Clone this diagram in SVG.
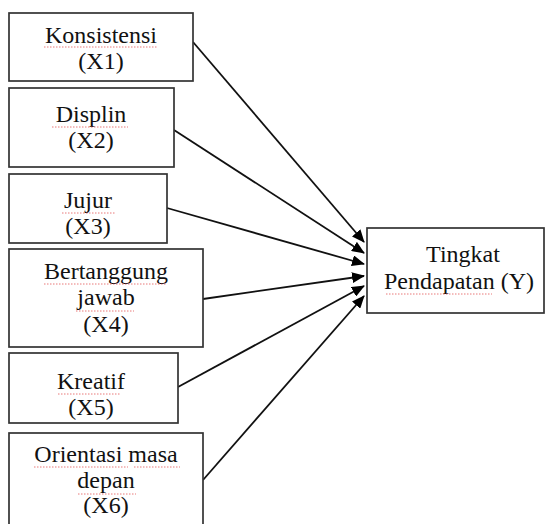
<svg xmlns="http://www.w3.org/2000/svg" width="549" height="524" viewBox="0 0 549 524">
<style>
.box{fill:#fff;stroke:#333;stroke-width:1.7}
text{font-size:24px;fill:#111;text-anchor:middle}
.c{stroke:#111;stroke-width:1.8;fill:none;marker-end:url(#ah)}
.sq{stroke:#e04040;stroke-width:1;stroke-dasharray:1.5 1.5;fill:none;opacity:0.7}
</style>
<defs>
<marker id="ah" markerUnits="userSpaceOnUse" markerWidth="13" markerHeight="11" refX="12" refY="5.5" orient="auto">
<path d="M0,0 L13,5.5 L0,11 z" fill="#000"/>
</marker>
</defs>
<rect width="549" height="524" fill="#fff"/>
<g id="connectors">
<line class="c" x1="193" y1="42" x2="364" y2="242"/>
<line class="c" x1="174" y1="130" x2="364" y2="253"/>
<line class="c" x1="167" y1="208" x2="364" y2="264"/>
<line class="c" x1="203" y1="299" x2="364" y2="276"/>
<line class="c" x1="178" y1="387" x2="364" y2="286"/>
<line class="c" x1="203" y1="480" x2="364" y2="296"/>
</g>
<g font-family="Liberation Serif, Times New Roman, serif">
<g id="x1">
<rect class="box" x="9" y="13" width="184" height="68"/>
<text x="101" y="43">Konsistensi</text>
<text x="101" y="69">(X1)</text>
<line class="sq" x1="44" y1="47" x2="158" y2="47"/>
</g>
<g id="x2">
<rect class="box" x="9" y="88" width="165" height="79"/>
<text x="91" y="122">Displin</text>
<text x="91" y="148">(X2)</text>
<line class="sq" x1="52" y1="127" x2="128" y2="127"/>
</g>
<g id="x3">
<rect class="box" x="9" y="174" width="158" height="69"/>
<text x="88" y="208">Jujur</text>
<text x="88" y="234">(X3)</text>
<line class="sq" x1="62" y1="213" x2="115" y2="213"/>
</g>
<g id="x4">
<rect class="box" x="9" y="249" width="194" height="98"/>
<text x="106" y="279">Bertanggung</text>
<text x="106" y="305">jawab</text>
<text x="106" y="332">(X4)</text>
<line class="sq" x1="44" y1="284" x2="167" y2="284"/>
<line class="sq" x1="76" y1="311" x2="134" y2="311"/>
</g>
<g id="x5">
<rect class="box" x="9" y="353" width="169" height="70"/>
<text x="91" y="389">Kreatif</text>
<text x="91" y="415">(X5)</text>
<line class="sq" x1="58" y1="394" x2="120" y2="394"/>
</g>
<g id="x6">
<rect class="box" x="9" y="433" width="194" height="100"/>
<text x="106" y="462">Orientasi masa</text>
<text x="106" y="488">depan</text>
<text x="106" y="513">(X6)</text>
<line class="sq" x1="34" y1="467" x2="128" y2="467"/>
<line class="sq" x1="134" y1="467" x2="180" y2="467"/>
<line class="sq" x1="78" y1="494" x2="136" y2="494"/>
</g>
<g id="y">
<rect class="box" x="367" y="228" width="177" height="85"/>
<text x="463" y="262">Tingkat</text>
<text x="459" y="289">Pendapatan (Y)</text>
<line class="sq" x1="386" y1="294" x2="492" y2="294"/>
</g>
</g>
</svg>
